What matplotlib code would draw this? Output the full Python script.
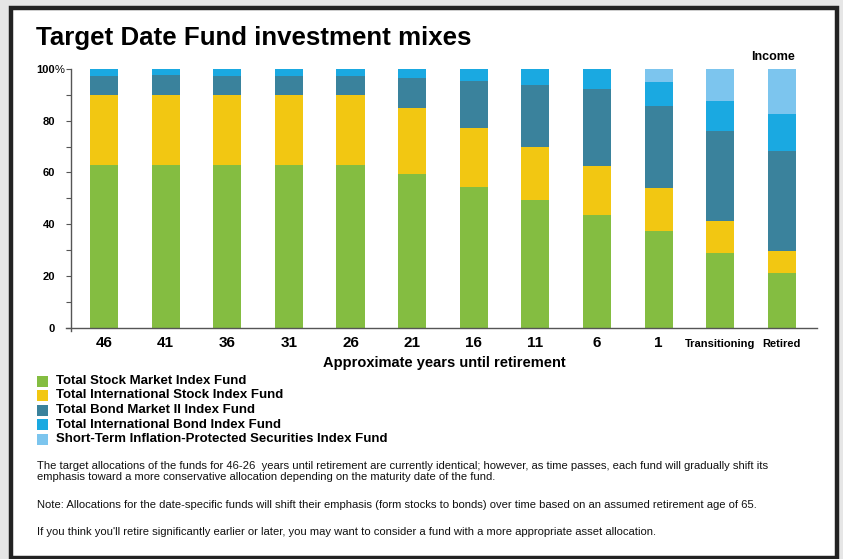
import matplotlib
matplotlib.use("Agg")
import matplotlib.pyplot as plt
from matplotlib.patches import Rectangle
from matplotlib.lines import Line2D
import numpy as np

plt.rcParams['font.family'] = ['Liberation Sans', 'DejaVu Sans']

categories = ["46", "41", "36", "31", "26", "21", "16", "11", "6", "1", "Transitioning", "Retired"]
series_names = [
    "Total Stock Market Index Fund",
    "Total International Stock Index Fund",
    "Total Bond Market II Index Fund",
    "Total International Bond Index Fund",
    "Short-Term Inflation-Protected Securities Index Fund",
]
total_stock = [63, 63, 63, 63, 63, 59.5, 54.3, 49.5, 43.7, 37.5, 28.7, 21.1]
intl_stock = [27, 27, 27, 27, 27, 25.5, 23.0, 20.5, 18.9, 16.5, 12.5, 8.5]
total_bond = [7.4, 7.5, 7.4, 7.4, 7.4, 11.5, 18.1, 23.7, 29.5, 31.7, 34.7, 38.7]
intl_bond = [2.6, 2.5, 2.6, 2.6, 2.6, 3.5, 4.6, 6.3, 7.9, 9.3, 11.6, 14.4]
tips = [0, 0, 0, 0, 0, 0, 0, 0, 0, 5.0, 12.5, 17.3]
series = [total_stock, intl_stock, total_bond, intl_bond, tips]
colors = ["#84bd41", "#f2c712", "#3a829c", "#1aa9e1", "#7cc5ee"]
yticks = [0, 20, 40, 60, 80, 100]

W, H = 843, 559
fig = plt.figure(figsize=(W / 100, H / 100), dpi=100)
fig.patch.set_facecolor("#e6e6e6")

# white panel with dark border
panel = Rectangle((10.5 / W, 1 - 557.5 / H), 826 / W, 550 / H, transform=fig.transFigure,
                  facecolor="white", edgecolor="#222222", linewidth=3.2, zorder=-5)
fig.patches.append(panel)

ax = fig.add_axes([71 / W, 1 - 327.7 / H, 746 / W, 258.7 / H])
ax.set_facecolor("none")
x = np.arange(len(categories))
bottom = np.zeros(len(categories))
for name, vals, c in zip(series_names, series, colors):
    ax.bar(x, vals, width=0.455, bottom=bottom, color=c, label=name, zorder=2)
    bottom += np.array(vals)

ax.set_xlim(-0.536, len(categories) - 1 + 0.57)
ax.set_ylim(0, 100)
for s in ["top", "right", "bottom", "left"]:
    ax.spines[s].set_visible(False)

# axis lines (slightly extended like the reference)
ax.add_line(Line2D([-0.007, 1], [0, 0], transform=ax.transAxes, color="#555555", lw=1.0, clip_on=False))
ax.add_line(Line2D([0, 0], [-0.014, 1], transform=ax.transAxes, color="#555555", lw=1.0, clip_on=False))

ax.set_yticks(yticks)
ax.set_yticks(range(10, 100, 20), minor=True)
ax.set_yticklabels([str(v) for v in yticks], fontsize=8, fontweight="bold")
ax.tick_params(axis="y", which="both", length=3.6, width=0.8, color="#555555", pad=8)
ax.text(-16 / 746, 1.0, "%", transform=ax.transAxes, fontsize=8, fontweight="normal",
        ha="left", va="center_baseline")

ax.set_xticks(x)
ax.set_xticklabels(categories)
ax.tick_params(axis="x", length=0, pad=6)
for lbl, cat in zip(ax.get_xticklabels(), categories):
    if cat in ("Transitioning", "Retired"):
        lbl.set_fontsize(8)
        lbl.set_fontweight("bold")
        lbl.set_y(-0.012)
    else:
        lbl.set_fontsize(11)
        lbl.set_fontweight("bold")

ax.set_xlabel("Approximate years until retirement", fontsize=10.5, fontweight="bold", labelpad=4)
ax.text(len(categories) - 1 - 0.14, 102.5, "Income", fontsize=9, fontweight="bold", ha="center", va="bottom")

fig.text(36 / W, 1 - 38 / H, "Target Date Fund investment mixes", fontsize=18.6, fontweight="bold",
         ha="left", va="center")

# legend
leg_y = [381, 395.3, 410, 424.5, 439.3]
for name, c, yy in zip(series_names, colors, leg_y):
    fig.patches.append(Rectangle((37 / W, 1 - (yy + 5.5) / H), 11 / W, 11 / H, transform=fig.transFigure,
                                 facecolor=c, edgecolor="none"))
    fig.text(56 / W, 1 - yy / H, name, fontsize=9.5, fontweight="bold", ha="left", va="center")

notes = [
    (466, "The target allocations of the funds for 46-26  years until retirement are currently identical; however, as time passes, each fund will gradually shift its"),
    (477, "emphasis toward a more conservative allocation depending on the maturity date of the fund."),
    (505, "Note: Allocations for the date-specific funds will shift their emphasis (form stocks to bonds) over time based on an assumed retirement age of 65."),
    (532, "If you think you'll retire significantly earlier or later, you may want to consider a fund with a more appropriate asset allocation."),
]
for yy, t in notes:
    fig.text(37 / W, 1 - yy / H, t, fontsize=8.1, ha="left", va="center",
             family=["Liberation Sans Narrow", "Liberation Sans", "DejaVu Sans"], color="#111111")

fig.savefig("out.png", dpi=100, facecolor=fig.get_facecolor())
